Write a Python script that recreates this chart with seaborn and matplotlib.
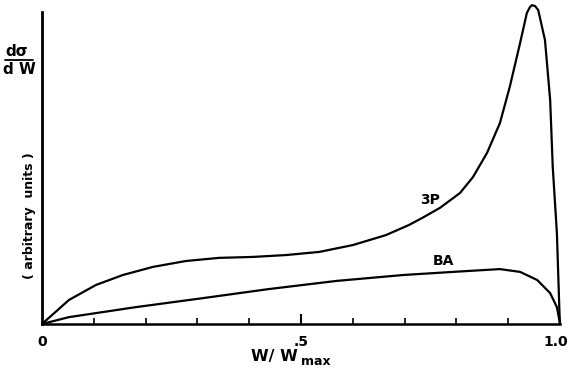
import numpy as np
import pandas as pd
import matplotlib
matplotlib.use("Agg")
import matplotlib.pyplot as plt
import matplotlib.transforms as mtransforms
import seaborn as sns

# --- data (x = W/Wmax, y = arbitrary units) ---
x_3p = [0.0, 0.052, 0.104, 0.156, 0.214, 0.278, 0.342, 0.407, 0.471, 0.535,
        0.600, 0.664, 0.708, 0.734, 0.768, 0.807, 0.832, 0.859, 0.884, 0.903,
        0.923, 0.936, 0.942, 0.946, 0.952, 0.958, 0.971, 0.981, 0.986, 0.994,
        0.999, 1.0]
y_3p = [0.0, 0.077, 0.125, 0.157, 0.183, 0.202, 0.212, 0.215, 0.221, 0.231,
        0.253, 0.285, 0.317, 0.340, 0.372, 0.420, 0.471, 0.548, 0.644, 0.760,
        0.901, 0.997, 1.016, 1.022, 1.019, 1.006, 0.910, 0.718, 0.503, 0.292,
        0.035, 0.0]

x_ba = [0.0, 0.052, 0.181, 0.311, 0.438, 0.568, 0.697, 0.793, 0.884, 0.923,
        0.956, 0.981, 0.994, 0.998, 1.0]
y_ba = [0.0, 0.022, 0.054, 0.083, 0.112, 0.138, 0.157, 0.167, 0.176, 0.167,
        0.141, 0.099, 0.054, 0.019, 0.0]

series_labels = ["3P", "BA"]
label_pos_x = [0.750, 0.775]
label_pos_y = [0.396, 0.201]

tick_positions = [0.0, 0.5, 1.0]
tick_labels = ["0", ".5", "1.0"]
minor_positions = [0.1, 0.2, 0.3, 0.4, 0.6, 0.7, 0.8, 0.9]

df = pd.concat([
    pd.DataFrame({"x": x_3p, "y": y_3p, "series": "3P"}),
    pd.DataFrame({"x": x_ba, "y": y_ba, "series": "BA"}),
], ignore_index=True)

sns.set_theme(style="white")
plt.rcParams["font.family"] = ["DejaVu Sans"]
plt.rcParams["text.color"] = "black"
plt.rcParams["xtick.color"] = "black"
plt.rcParams["xtick.labelcolor"] = "black"

W, H = 568, 374
fig = plt.figure(figsize=(W / 100, H / 100), dpi=100)
ax = fig.add_axes([42 / W, 50 / H, 518 / W, 0.997 - 50 / H])

sns.lineplot(data=df, x="x", y="y", hue="series", palette=["black", "black"],
             estimator=None, sort=False, linewidth=1.6, legend=False, ax=ax)
for line in ax.get_lines():
    line.set_clip_on(False)
    line.set_solid_joinstyle("round")
    line.set_solid_capstyle("round")

ax.set_xlim(0, 1.0)
ax.set_ylim(0, 1.035)

for s in ["top", "right"]:
    ax.spines[s].set_visible(False)
for s in ["left", "bottom"]:
    ax.spines[s].set_color("black")
ax.spines["left"].set_linewidth(2.0)
ax.spines["bottom"].set_linewidth(1.8)
ax.spines["left"].set_bounds(0, 1.0)

ax.set_xticks(tick_positions)
ax.set_xticklabels(tick_labels, fontsize=10, fontweight="bold", color="black")
ax.set_xticks(minor_positions, minor=True)
ax.tick_params(axis="x", which="major", direction="in", length=7, width=1.5,
               color="black", labelcolor="black", pad=8, bottom=True)
ax.tick_params(axis="x", which="minor", direction="in", length=4, width=1.2,
               color="black", bottom=True)
ax.set_yticks([])
ax.set_xlabel("")
ax.set_ylabel("")
for t in ax.xaxis.get_major_ticks():
    if t.get_loc() in (0.0, 1.0):
        t.tick1line.set_visible(False)
# nudge the "1.0" label slightly left, as in the reference
last = ax.get_xticklabels()[-1]
last.set_transform(last.get_transform() +
                   mtransforms.ScaledTranslation(-4 / 100, 0, fig.dpi_scale_trans))

for lab, lx, ly in zip(series_labels, label_pos_x, label_pos_y):
    ax.text(lx, ly, lab, fontsize=10, fontweight="bold", ha="center",
            va="center", color="black")

# x axis label  W/ W_max
fig.text(298 / W, 1 - 357 / H, "W/ W", fontsize=11.5, fontweight="bold",
         ha="right", va="center", color="black")
fig.text(301 / W, 1 - 361.5 / H, "max", fontsize=9, fontweight="bold",
         ha="left", va="center", color="black")

# y axis label  dσ/dW  and (arbitrary units)
fig.text(17 / W, 1 - 52 / H, "d\u03c3", fontsize=11, fontweight="bold",
         ha="center", va="center", color="black")
fig.add_artist(plt.Line2D([5 / W, 33 / W], [1 - 59.5 / H, 1 - 59.5 / H],
                          color="black", linewidth=1.3))
fig.text(19 / W, 1 - 69 / H, "d W", fontsize=11, fontweight="bold",
         ha="center", va="center", color="black")
fig.text(30 / W, 1 - 216 / H, "( arbitrary  units )",
         fontsize=9, fontweight="bold", rotation=90, ha="center", va="center",
         color="black")

fig.savefig("out.png", dpi=100, facecolor="white")
